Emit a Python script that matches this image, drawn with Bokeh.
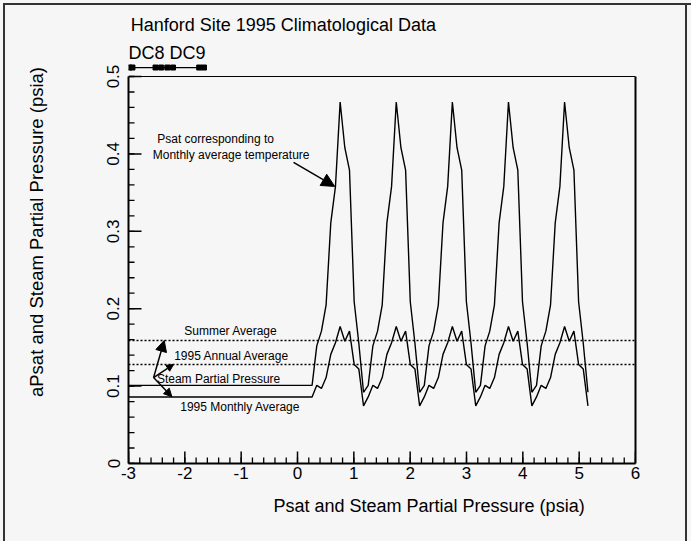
from bokeh.plotting import figure
from bokeh.models import (Range1d, LinearAxis, FixedTicker, Span, Label, Arrow,
                          NormalHead, ColumnDataSource, Title)
from bokeh.embed import file_html
from bokeh.resources import INLINE

# ---------------- data ----------------
# 1995 monthly values (psia), repeated for each simulated year
psat_1995 = [0.101, 0.152, 0.171, 0.205, 0.311, 0.358, 0.467, 0.408, 0.379, 0.209, 0.155, 0.092]
steam_1995 = [0.086, 0.101, 0.097, 0.111, 0.141, 0.156, 0.177, 0.158, 0.171, 0.128, 0.122, 0.0745]
n_years = 5
flat_start = -3.0          # constant initial value from here to the first month
month_start = 0.259        # position of the first monthly point
month_step = 0.083         # spacing of monthly points

summer_avg = 0.159
annual_avg = 0.128

# DC8 / DC9 event markers above the plot
dc_x = [-2.985, -2.93, -2.52, -2.42, -2.31, -2.21, -1.745, -1.66]
dc_level = 0.5116

x_ticks = [-3, -2, -1, 0, 1, 2, 3, 4, 5, 6]
x_tick_labels = ["-3", "-2", "-1", "0", "1", "2", "3", "4", "5", "6"]
y_ticks = [0, 0.1, 0.2, 0.3, 0.4, 0.5]
y_tick_labels = ["0", "0.1", "0.2", "0.3", "0.4", "0.5"]
x_minor = [round(-3 + 0.2 * i, 1) for i in range(46)]
y_minor = [round(0.02 * i, 2) for i in range(26)]

# ---------------- build series ----------------
months_x = [month_start + i * month_step for i in range(12 * n_years)]
psat_y = psat_1995 * n_years
steam_y = steam_1995 * n_years
psat_src = ColumnDataSource(dict(x=[flat_start] + months_x, y=[psat_1995[0]] + psat_y))
steam_src = ColumnDataSource(dict(x=[flat_start] + months_x, y=[steam_1995[0]] + steam_y))
dc_src = ColumnDataSource(dict(x=dc_x, y=[dc_level] * len(dc_x)))

BG = "#f6f6f6"
FONT = "Liberation Sans"
W, H = 691, 541
ML, MR, MB = 128, 56, 78
Y_TOP = 0.5982
x0, x1 = -3, 6
px_x = (W - ML - MR) / (x1 - x0)       # pixels per x unit
px_y = (H - MB) / Y_TOP                # pixels per y unit

p = figure(width=W, height=H, x_range=Range1d(x0, x1), y_range=Range1d(0, Y_TOP),
           output_backend="svg", toolbar_location=None,
           min_border_left=ML, min_border_right=MR, min_border_top=0, min_border_bottom=MB,
           background_fill_color=None, border_fill_color=None, outline_line_color=None,
           styles={"background-color": BG,
                   "box-shadow": ("inset 3px 3px 0 0 #f6f6f6, inset 5px 5px 0 0 #333333, "
                                  "inset -4px 0 0 0 #f6f6f6, inset -6px 0 0 0 #333333")})
p.grid.visible = False

xa = p.xaxis[0]
xa.ticker = FixedTicker(ticks=x_ticks)
xa.major_label_overrides = dict(zip(x_ticks, x_tick_labels))
xa.bounds = (x0, x1)
ya = p.yaxis[0]
ya.ticker = FixedTicker(ticks=y_ticks)
ya.major_label_overrides = dict(zip(y_ticks, y_tick_labels))
ya.bounds = (0, 0.5)
ya.major_label_orientation = "vertical"
for ax in (xa, ya):
    ax.axis_line_width = 2
    ax.axis_line_color = "black"
    ax.major_tick_in = 0
    ax.major_tick_out = 0
    ax.minor_tick_in = 0
    ax.minor_tick_out = 0
    ax.major_tick_line_color = None
    ax.minor_tick_line_color = None
    ax.major_label_text_font = FONT
    ax.major_label_text_font_size = "17px"
    ax.major_label_text_color = "black"
xa.major_label_standoff = 3
ya.major_label_standoff = 9

# outer axis that only carries the y title
ylab = LinearAxis(axis_label="aPsat and Steam Partial Pressure (psia)",
                  bounds=(0.008, Y_TOP),
                  ticker=FixedTicker(ticks=[]), axis_line_color=None,
                  major_tick_line_color=None, minor_tick_line_color=None,
                  major_tick_in=0, major_tick_out=0, minor_tick_in=0, minor_tick_out=0,
                  major_label_standoff=0, major_label_text_color=None,
                  axis_label_standoff=58, axis_label_text_font=FONT,
                  axis_label_text_font_size="18.5px", axis_label_text_font_style="normal",
                  axis_label_text_color="black")
p.add_layout(ylab, "left")

# right frame border
ra = LinearAxis(bounds=(0, 0.5), ticker=FixedTicker(ticks=[]), axis_line_width=2,
                axis_line_color="black", major_tick_line_color=None,
                minor_tick_line_color=None, major_label_text_color=None)
p.add_layout(ra, "right")

# x title
p.add_layout(Title(text="Psat and Steam Partial Pressure (psia)", align="left", offset=145,
                   vertical_align="top", standoff=28, text_font=FONT,
                   text_font_size="18px", text_font_style="normal", text_color="black"),
             "below")

# inward tick marks
maj_len_x, min_len_x = 12 / px_y, 6 / px_y
maj_len_y, min_len_y = 13 / px_x, 6 / px_x
p.segment(x0=x_ticks, y0=[0] * len(x_ticks), x1=x_ticks, y1=[maj_len_x] * len(x_ticks),
          line_color="black", line_width=1.5)
p.segment(x0=x_minor, y0=[0] * len(x_minor), x1=x_minor, y1=[min_len_x] * len(x_minor),
          line_color="black", line_width=1.3)
p.segment(x0=[x0] * len(y_ticks), y0=y_ticks, x1=[x0 + maj_len_y] * len(y_ticks), y1=y_ticks,
          line_color="black", line_width=1.5)
p.segment(x0=[x0] * len(y_minor), y0=y_minor, x1=[x0 + min_len_y] * len(y_minor), y1=y_minor,
          line_color="black", line_width=1.3)

# frame top border and average lines
p.add_layout(Span(location=0.5, dimension="width", line_color="black", line_width=1.2))
for lvl in (summer_avg, annual_avg):
    p.add_layout(Span(location=lvl, dimension="width", line_color="black",
                      line_width=1.5, line_dash="2 2"))

p.line("x", "y", source=psat_src, line_color="black", line_width=1.4)
p.line("x", "y", source=steam_src, line_color="black", line_width=1.4)

p.line("x", "y", source=dc_src, line_color="black", line_width=1.3)
p.scatter("x", "y", source=dc_src, marker="square", size=5, fill_color="black",
          line_color="black")

def lab(text, x, y, size="12px", align="left", baseline="middle"):
    p.add_layout(Label(x=x, y=y, text=text, text_font=FONT, text_font_size=size,
                       text_align=align, text_baseline=baseline, text_color="black"))

lab("Hanford Site 1995 Climatological Data", -2.96, 0.5666, size="18px", baseline="alphabetic")
lab("DC8 DC9", -3.0, 0.5298, size="18px", baseline="alphabetic")

lab("Psat corresponding to", -2.49, 0.4192)
lab("Monthly average temperature", -2.57, 0.3992)
lab("Summer Average", -2.011, 0.1714)
lab("1995 Annual Average", -2.189, 0.1393)
lab("Steam Partial Pressure", -2.496, 0.1098)
lab("1995 Monthly Average", -2.082, 0.0724)

def arrow(xs, ys, xe, ye, size):
    p.add_layout(Arrow(end=NormalHead(size=size, fill_color="black", line_color="black"),
                       x_start=xs, y_start=ys, x_end=xe, y_end=ye,
                       line_color="black", line_width=1.5))

arrow(-0.07, 0.389, 0.66, 0.358, 13)
arrow(-2.555, 0.111, -2.366, 0.159, 11)
arrow(-2.555, 0.111, -2.2, 0.128, 7)
arrow(-2.555, 0.111, -2.23, 0.0863, 8)

open("out.html", "w").write(file_html(p, INLINE))
